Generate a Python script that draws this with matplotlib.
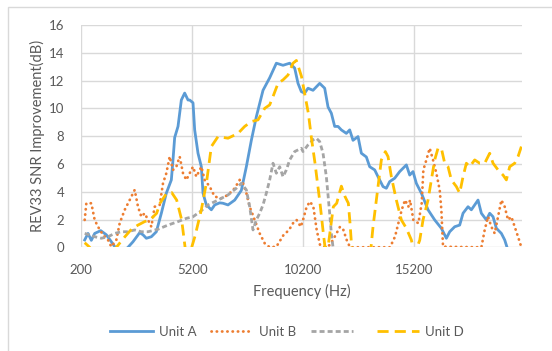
import matplotlib
matplotlib.use("Agg")
import matplotlib.pyplot as plt
from matplotlib.patches import Rectangle

# ---------------- data ----------------
freq_a = [366, 515, 664, 817, 1087, 1340, 1565, 1717, 1955, 2315, 2540, 2840, 2990, 3140, 3365,
          3590, 3815, 4040, 4265, 4340, 4415, 4565, 4715, 4865, 5015, 5090, 5240, 5315, 5465,
          5615, 5690, 5840, 6065, 6217, 6440, 6590, 6815, 7117, 7415, 7640, 7865, 8090, 8390,
          8690, 8990, 9290, 9590, 9815, 9965, 10115, 10265, 10415, 10640, 10940, 11165, 11315,
          11465, 11615, 11765, 11915, 12140, 12290, 12440, 12665, 12815, 13040, 13190, 13415,
          13565, 13790, 13940, 14090, 14315, 14540, 14840, 14990, 15140, 15290, 15515, 15815,
          16115, 16415, 16640, 16790, 17015, 17240, 17390, 17615, 17765, 18065, 18215, 18440,
          18590, 18740, 18890, 19115, 19265, 19370]
unit_a = [0.53, 1.0, 0.5, 1.0, 1.2, 0.9, 0.4, 0.05, -0.5, 0.0, 0.4, 1.05, 0.9, 0.65, 0.76,
          1.12, 2.45, 3.9, 4.85, 6.3, 7.9, 8.7, 10.6, 11.1, 10.6, 10.6, 10.4, 8.45, 6.77,
          5.8, 3.9, 3.05, 2.7, 3.05, 3.2, 3.17, 3.05, 3.4, 4.1, 5.8, 7.7, 9.4, 11.3,
          12.2, 13.25, 13.1, 13.25, 12.9, 11.8, 11.2, 11.1, 11.45, 11.3, 11.8, 11.45, 10.1,
          9.65, 8.7, 8.7, 8.45, 8.2, 8.45, 7.7, 7.97, 6.77, 6.5, 5.8, 5.57,
          5.08, 4.37, 4.25, 4.73, 4.97, 5.45, 5.93, 5.2, 5.45, 4.6, 3.9, 2.7,
          1.97, 1.37, 0.65, 1.12, 1.48, 1.6, 2.45, 2.92, 2.7, 3.4, 2.45, 1.97,
          2.45, 2.2, 1.37, 1.0, 0.53, 0.0]

freq_b = [366, 440, 665, 815, 965, 1190, 1415, 1565, 1790, 1940, 2165, 2390, 2615, 2765, 2915,
          3065, 3215, 3365, 3515, 3740, 3890, 4040, 4190, 4340, 4490, 4640, 4790, 4940, 5165,
          5240, 5390, 5615, 5765, 5990, 6215, 6515, 6815, 7115, 7340, 7490, 7640, 7790, 8015,
          8240, 8465, 8690, 8990, 9300, 9560, 9740, 9900, 10090, 10190, 10355, 10505, 10655,
          10805, 10955, 11180, 11405, 11630, 11855, 12005, 12155, 12305, 14105, 14330, 14480,
          14630, 14780, 14930, 15005, 15155, 15380, 15530, 15605, 15740, 15890, 16040, 16190,
          16340, 16415, 16490, 18215, 18365, 18515, 18665, 18815, 18965, 19115, 19265, 19415,
          19565, 19715, 19865, 20015]
unit_b = [1.97, 3.17, 3.17, 1.97, 1.48, 0.89, 0.53, 0.04, 0.53, 1.73, 2.69, 3.4, 4.13, 2.92, 2.2,
          2.45, 1.97, 1.48, 2.92, 3.05, 4.61, 5.33, 6.53, 5.57, 5.8, 6.53, 5.33, 4.85, 5.57,
          5.8, 5.08, 5.8, 4.85, 4.37, 3.65, 3.53, 3.77, 4.25, 4.85, 4.61, 3.9, 2.92, 1.97,
          1.0, 0.29, 0.0, 0.04, 0.85, 1.25, 1.73, 1.97, 1.48, 1.97, 2.92, 3.29, 2.92,
          1.25, 0.17, 0.0, 0.17, 0.8, 1.48, 1.25, 0.53, 0.0, 0.0, 0.77, 1.73,
          2.69, 3.4, 2.92, 3.4, 1.97, 1.73, 3.17, 5.57, 6.29, 7.13, 6.29, 5.33,
          4.13, 2.69, 0.04, 0.0, 1.25, 2.2, 1.48, 1.0, 2.2, 3.4, 2.92, 1.97,
          2.2, 1.48, 0.76, 0.0]

freq_c = [366, 591, 817, 1115, 1415, 1717, 2015, 2315, 2615, 2915, 3215, 3665, 4115, 4565, 4955,
          5240, 5555, 5915, 6365, 6815, 7190, 7415, 7640, 7790, 7940, 8090, 8240, 8390, 8540,
          8690, 8840, 8990, 9140, 9290, 9440, 9590, 9815, 10115, 10190, 10415, 10640, 10790,
          10940, 11090, 11240, 11390, 11465, 11540]
unit_c = [1.0, 0.89, 0.76, 0.65, 0.76, 1.0, 1.12, 1.12, 1.25, 1.12, 1.12, 1.3, 1.6, 1.85, 2.09,
          2.2, 2.56, 3.05, 3.4, 3.77, 4.25, 4.61, 4.13, 2.92, 1.25, 1.97, 2.45, 3.05, 3.9,
          4.85, 6.05, 5.33, 5.8, 5.08, 5.57, 6.29, 6.89, 7.13, 6.89, 7.37, 7.73, 7.85,
          7.61, 6.77, 5.08, 2.45, 1.0, 0.0]

freq_d = [366, 591, 1055, 1790, 2180, 2470, 2765, 3065, 3305, 3605, 3755, 4055, 4280, 4505, 4730,
          4880, 5015, 5180, 5330, 5615, 5850, 6065, 6365, 6815, 7265, 7565, 7865, 8165, 8465,
          8690, 8840, 9065, 9290, 9515, 9740, 9890, 10120, 10430, 10580, 10730, 10805, 10955,
          11105, 11180, 11315, 11555, 11705, 11915, 12080, 12230, 12305, 12380, 12800, 13250,
          13340, 13565, 13715, 13895, 14015, 14165, 14390, 14615, 14840, 15065, 15140, 15230,
          15320, 15440, 15590, 15815, 15965, 16115, 16265, 16415, 16565, 16715, 16865, 17090,
          17240, 17390, 17540, 17690, 17915, 18140, 18365, 18590, 18740, 18965, 19190, 19340,
          19490, 19715, 19865, 20015]
unit_d = [0.33, 0.0, -1.5, 0.0, 0.77, 1.3, 1.6, 1.85, 1.97, 2.45, 3.17, 3.9, 3.94, 3.4, 1.97,
          0.04, -1.0, 0.0, 0.8, 2.7, 4.7, 7.25, 7.97, 7.85, 8.2, 8.7, 9.05, 9.17, 10.0,
          10.25, 10.85, 11.8, 12.05, 12.4, 13.25, 13.45, 12.3, 9.65, 7.73, 6.05, 5.08, 3.17,
          1.0, 0.0, 0.0, 2.92, 3.17, 4.4, 3.65, 3.17, 1.73, 0.0, -2.0, 0.0,
          1.48, 4.37, 6.29, 6.89, 6.53, 5.08, 3.4, 1.97, 1.37, 0.53, 0.0, -0.5,
          0.0, 0.5, 1.97, 3.4, 4.85, 6.29, 7.13, 7.13, 6.05, 5.8, 4.85, 4.37,
          3.9, 5.08, 6.05, 5.8, 6.29, 6.05, 6.05, 6.77, 6.05, 5.57, 5.2, 4.85,
          5.8, 6.05, 6.53, 7.25]

series_names = ["Unit A", "Unit B", " ", "Unit D"]
x_ticks = [200, 5200, 10200, 15200]
y_ticks = [0, 2, 4, 6, 8, 10, 12, 14, 16]

# ---------------- figure ----------------
W, H = 552, 351
fig = plt.figure(figsize=(W / 100, H / 100), dpi=100)
fig.patch.set_facecolor("white")
FONT = "Lato"
TXT = "#595959"
GRID = "#d9d9d9"

# chart area border (partially visible)
fig.patches.append(Rectangle((8 / W, -0.1), 1.2, (H - 6.5) / H + 0.1, transform=fig.transFigure,
                             fill=False, edgecolor=GRID, linewidth=1.0))

ax = fig.add_axes([81 / W, (H - 247.3) / H, 440.7 / W, 222.3 / H])
ax.set_xlim(200, 20030)
ax.set_ylim(0, 16)
for s in ax.spines.values():
    s.set_visible(False)
ax.set_xticks(x_ticks)
ax.set_yticks(y_ticks)
ax.grid(True, color=GRID, linewidth=1.0)
ax.set_axisbelow(True)
ax.tick_params(length=0, labelcolor=TXT, labelsize=9.5)
ax.tick_params(axis="y", pad=12)
ax.tick_params(axis="x", pad=12)
for lab in ax.get_xticklabels() + ax.get_yticklabels():
    lab.set_fontfamily(FONT)

lw = 2.0
ax.plot(freq_a, unit_a, color="#5B9BD5", lw=lw, label=series_names[0], solid_joinstyle="round")
ax.plot(freq_b, unit_b, color="#ED7D31", lw=lw, linestyle=(0, (0.1, 1.8)),
        dash_capstyle="round", label=series_names[1])
ax.plot(freq_c, unit_c, color="#A5A5A5", lw=lw, linestyle=(0, (1.8, 1.1)), label=series_names[2])
ax.plot(freq_d, unit_d, color="#FFC000", lw=lw, linestyle=(0, (4.0, 2.2)), label=series_names[3])

ax.set_xlabel("Frequency (Hz)", fontsize=10.5, color=TXT, fontfamily=FONT, labelpad=6)
ax.set_ylabel("REV33 SNR Improvement(dB)", fontsize=10.5, color=TXT, fontfamily=FONT, labelpad=3)

leg = fig.legend(loc="center", bbox_to_anchor=(287 / W, 1 - 332 / H), ncol=4, frameon=False,
                 handlelength=3.2, handletextpad=0.45, columnspacing=1.1,
                 prop={"family": FONT, "size": 9.5})
for t in leg.get_texts():
    t.set_color(TXT)

fig.savefig("out.png", dpi=100, facecolor="white")
